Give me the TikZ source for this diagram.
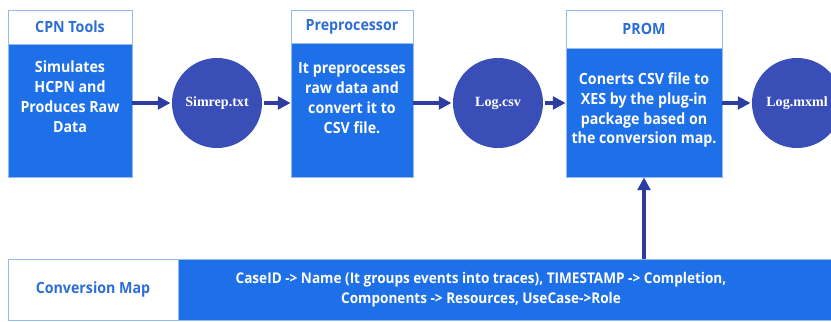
\documentclass[tikz,border=0pt]{standalone}
\usepackage{fontspec}
\setmainfont{Open Sans}[FakeStretch=0.92]
\newfontfamily\circfont{Liberation Serif}
\usetikzlibrary{arrows.meta}

\definecolor{boxblue}{RGB}{30,112,232}
\definecolor{headblue}{RGB}{44,110,214}
\definecolor{lineblue}{RGB}{150,185,240}
\definecolor{circblue}{RGB}{58,78,184}
\definecolor{arrblue}{RGB}{44,60,160}

\begin{document}
\begin{tikzpicture}[x=0.025cm,y=-0.025cm,
                    -{Triangle[length=9pt,width=9pt]},line width=2.2pt,draw=arrblue]
  \tikzstyle{head}=[draw=lineblue,line width=0.6pt,fill=white,text=headblue,
                    font=\bfseries\fontsize{11}{14}\selectfont]
  \tikzstyle{body}=[draw=lineblue,line width=0.6pt,fill=boxblue]
  \tikzstyle{btext}=[text=white,align=center,anchor=north,
                     font=\bfseries\fontsize{11}{14.2}\selectfont]
  \tikzstyle{file}=[circle,fill=circblue,minimum size=2.25cm,inner sep=0pt,
                    text=white,font=\circfont\bfseries\fontsize{10}{12}\selectfont]

  \clip (0,0) rectangle (831,322);
  \fill[white] (0,0) rectangle (831,322);

  % CPN Tools
  \node[head,minimum width=3.1cm,minimum height=0.85cm]  (cpn)   at (70,27)    {CPN Tools};
  \node[body,minimum width=3.1cm,minimum height=3.325cm] (cpnb)  at (70,110.5) {};
  \node[btext] (cpnt) at (70,55) {Simulates\\HCPN and\\Produces Raw\\Data};

  \node[file] (simrep) at (217,103) {Simrep.txt};

  % Preprocessor
  \node[head,minimum width=3.05cm,minimum height=0.825cm] (pre)  at (352,26.5) {Preprocessor};
  \node[body,minimum width=3.05cm,minimum height=3.35cm]  (preb) at (352,110)  {};
  \node[btext] (pret) at (352,56) {It preprocesses\\raw data and\\convert it to\\CSV file.};

  \node[file] (logcsv) at (498,103) {Log.csv};

  % PROM
  \node[head,minimum width=3.9cm,minimum height=0.95cm]  (prom)  at (644,29)    {PROM};
  \node[body,minimum width=3.9cm,minimum height=3.225cm] (promb) at (644,112.5) {};
  \node[btext] (promt) at (644,66) {Conerts CSV file to\\XES by the plug-in\\package based on\\the conversion map.};

  \node[file] (logmxml) at (797,103) {Log.mxml};

  % Conversion Map
  \node[head,minimum width=4.25cm,minimum height=1.525cm] (map) at (93,289.5) {Conversion Map};
  \node[body,minimum width=17.05cm,minimum height=1.525cm,anchor=west] (mapb) at (map.east) {};
  \node[text=white,align=center,font=\bfseries\fontsize{10.5}{14}\selectfont] (mapt) at (481,290)
    {CaseID -> Name (It groups events into traces), TIMESTAMP -> Completion,\\
     Components -> Resources, UseCase->Role};

  \draw (cpnb.east |- simrep.west) -- (simrep);
  \draw (simrep) -- (simrep.east -| preb.west);
  \draw (preb.east |- logcsv.west) -- (logcsv);
  \draw (logcsv) -- (logcsv.east -| promb.west);
  \draw (promb.east |- logmxml.west) -- (logmxml);
  \draw (mapb.north -| promb.south) -- (promb.south);
\end{tikzpicture}
\end{document}
